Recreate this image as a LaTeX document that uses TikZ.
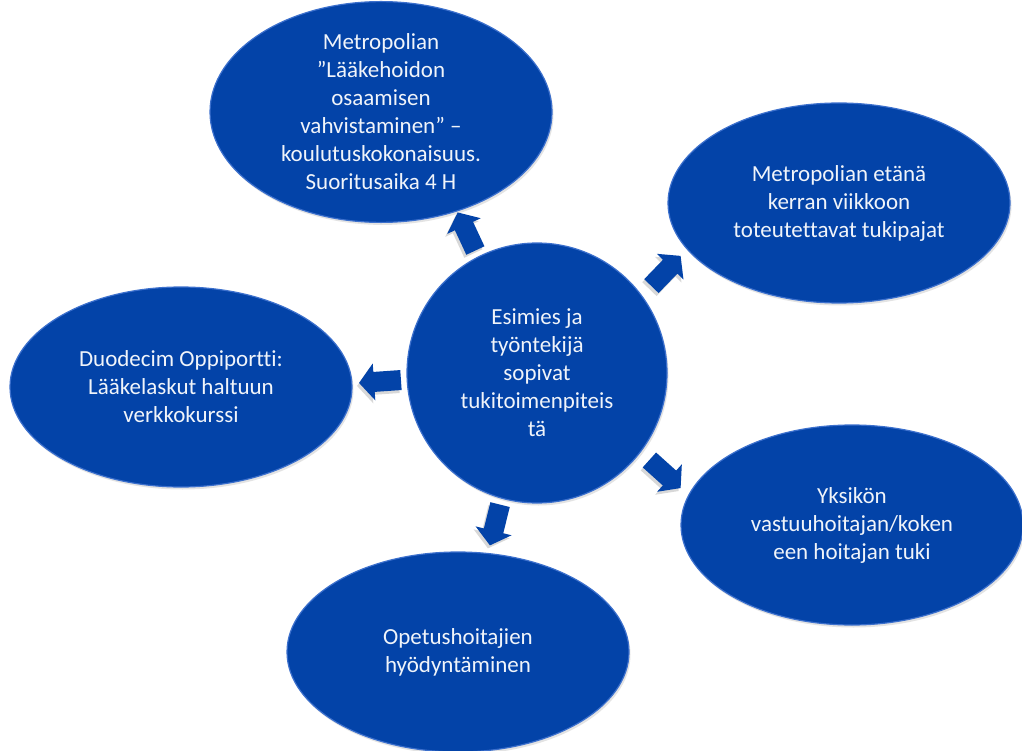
\documentclass[tikz,border=0pt]{standalone}
\usepackage{fontspec}
\setmainfont[Ligatures={NoCommon}]{Carlito}
\usetikzlibrary{shapes.geometric,shadows}
\definecolor{bub}{RGB}{3,67,168}
\definecolor{rim}{RGB}{60,112,205}
\definecolor{txt}{RGB}{240,244,250}
\tikzset{
  bubble/.style={ellipse, fill=bub, draw=rim, line width=1.2pt,
    minimum width=342pt, minimum height=200pt, inner sep=0pt,
    align=center, text=txt, font=\fontsize{23}{28}\selectfont,
    drop shadow={opacity=0.22, shadow xshift=1.5pt, shadow yshift=-2.5pt}},
  hub/.style={bubble, circle, minimum size=260pt},
  blockarrow/.style={fill=bub,
    drop shadow={opacity=0.3, shadow xshift=-2pt, shadow yshift=-3pt}}
}
\newcommand\blockarr[2]{%
  \fill[blockarrow, shift={(#1)}, rotate=#2]
    (-21,-10) -- (6,-10) -- (6,-18.5) -- (21,0) -- (6,18.5) -- (6,10) -- (-21,10) -- cycle;}
\begin{document}
\begin{tikzpicture}[x=1pt,y=-1pt]
\useasboundingbox (0,0) rectangle (1022,751);
\fill[white] (0,0) rectangle (1022,751);

\node[bubble] (top) at (381,112) {Metropolian\\”Lääkehoidon\\osaamisen\\vahvistaminen” –\\koulutuskokonaisuus.\\Suoritusaika 4 H};
\node[bubble] (tr) at (839,203) {Metropolian etänä\\kerran viikkoon\\toteutettavat tukipajat};
\node[bubble] (left) at (181,387) {Duodecim Oppiportti:\\Lääkelaskut haltuun\\verkkokurssi};
\node[bubble] (br) at (852,525) {Yksikön\\vastuuhoitajan/koken\\een hoitajan tuki};
\node[bubble] (bot) at (458,652) {Opetushoitajien\\hyödyntäminen};
\node[hub] (hub) at (537,373) {Esimies ja\\työntekijä\\sopivat\\tukitoimenpiteis\\tä};

\coordinate (a1) at (466.5,231.5);
\coordinate (a2) at (666,271);
\coordinate (a3) at (380,381.5);
\coordinate (a4) at (665,474);
\coordinate (a5) at (495,525);
\blockarr{a1}{115}
\blockarr{a2}{46}
\blockarr{a3}{184}
\blockarr{a4}{-42}
\blockarr{a5}{-104}
\end{tikzpicture}
\end{document}
